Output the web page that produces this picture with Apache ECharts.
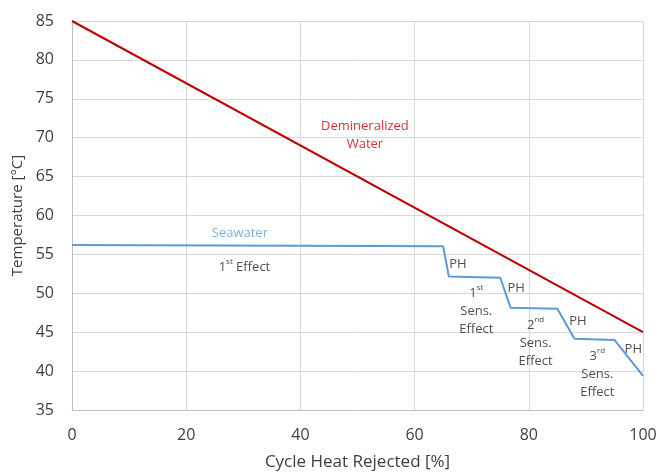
<!DOCTYPE html>
<html><head><meta charset="utf-8">
<script src="https://cdn.jsdelivr.net/npm/echarts@6/dist/echarts.min.js"></script>
<style>html,body{margin:0;padding:0;background:#fff}#c{width:659px;height:472px}</style>
</head><body><div id="c"></div>
<script>
const demX = [0, 100];
const demY = [85, 45];
const seaX = [0, 65, 66, 75, 76.8, 85, 88, 95, 100];
const seaY = [56.2, 56.05, 52.15, 52.0, 48.15, 48.0, 44.15, 44.0, 39.4];
const xTicks = [0, 20, 40, 60, 80, 100];
const yTicks = [35, 40, 45, 50, 55, 60, 65, 70, 75, 80, 85];
const noteText = ['Demineralized\nWater', 'Seawater', '{n|1}{s|st}{n| Effect}', 'PH', 'PH', 'PH', 'PH',
  '{n|1}{s|st}\n{n|Sens.}\n{n|Effect}', '{n|2}{s|nd}\n{n|Sens.}\n{n|Effect}', '{n|3}{s|rd}\n{n|Sens.}\n{n|Effect}'];
const noteX = [51.3, 29.4, 30.2, 67.6, 77.8, 88.6, 98.3, 70.8, 81.2, 92.0];
const noteY = [70.3, 57.75, 53.4, 53.75, 50.7, 46.35, 42.85, 47.75, 43.6, 39.65];
const noteColor = ['#C00000', '#5B9BD5', '#222', '#222', '#222', '#222', '#222', '#222', '#222', '#222'];

const font = 'Open Sans';
const chart = echarts.init(document.getElementById('c'));
chart.setOption({
  animation: false,
  grid: {left: 72, right: 16, top: 21, bottom: 62, containLabel: false, outerBoundsMode: 'none'},
  xAxis: {type: 'value', min: 0, max: 100, interval: 20,
    name: 'Cycle Heat Rejected [%]', nameLocation: 'middle', nameGap: 44,
    nameTextStyle: {fontFamily: font, fontSize: 17, color: '#404040'},
    axisLine: {lineStyle: {color: '#bfbfbf'}}, axisTick: {show: false},
    axisLabel: {fontFamily: font, fontSize: 16, color: '#404040', margin: 17},
    splitLine: {lineStyle: {color: '#d9d9d9'}}},
  yAxis: {type: 'value', min: 35, max: 85, interval: 5,
    name: 'Temperature [°C]', nameLocation: 'middle', nameGap: 42,
    nameTextStyle: {fontFamily: font, fontSize: 15, color: '#404040'},
    axisLine: {show: true, lineStyle: {color: '#bfbfbf'}}, axisTick: {show: false},
    axisLabel: {fontFamily: font, fontSize: 16, color: '#404040', margin: 18},
    splitLine: {lineStyle: {color: '#d9d9d9'}}},
  series: [
    {type: 'line', data: demX.map((x, i) => [x, demY[i]]), showSymbol: false,
      lineStyle: {color: '#C00000', width: 2}},
    {type: 'line', data: seaX.map((x, i) => [x, seaY[i]]), showSymbol: false,
      lineStyle: {color: '#5B9BD5', width: 2}},
    {type: 'scatter', symbolSize: 0, silent: true,
      data: noteX.map((x, i) => ({value: [x, noteY[i]],
        label: {show: true, position: 'inside', formatter: noteText[i], color: noteColor[i],
          fontFamily: font, fontSize: 13, lineHeight: 18, align: 'center',
          rich: {n: {fontFamily: font, fontSize: 13, color: noteColor[i], lineHeight: 18},
                 s: {fontFamily: font, fontSize: 8, color: noteColor[i], verticalAlign: 'top', lineHeight: 18}}}}))}
  ]
});
</script></body></html>
